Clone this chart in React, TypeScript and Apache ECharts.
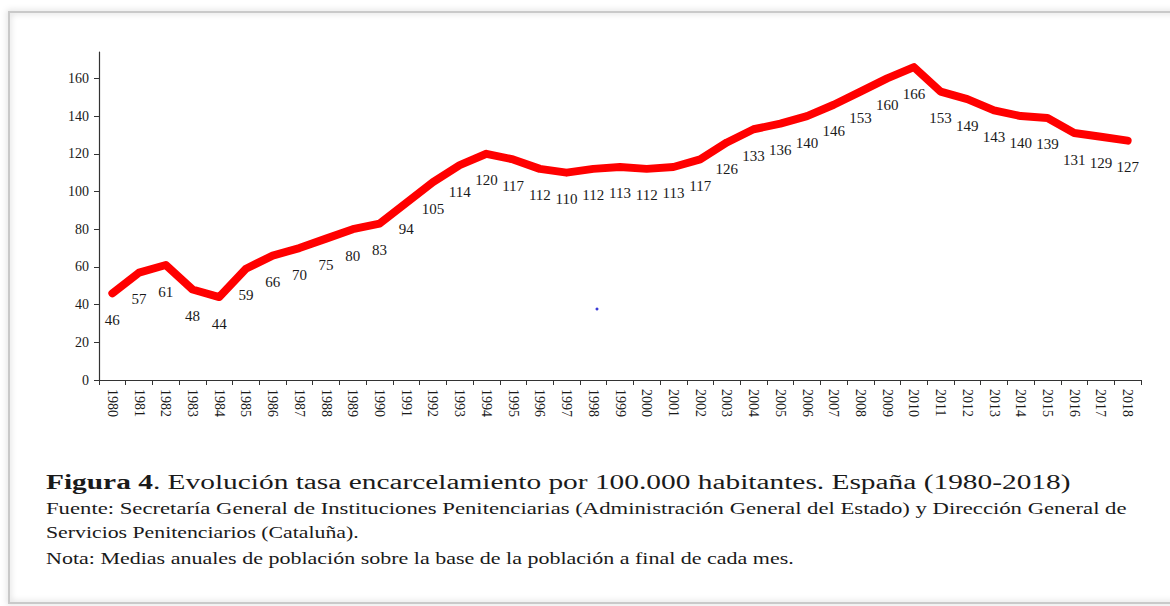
import React, { useEffect, useRef } from "react";
import * as echarts from "echarts";

const YEARS = [
  "1980","1981","1982","1983","1984","1985","1986","1987","1988","1989",
  "1990","1991","1992","1993","1994","1995","1996","1997","1998","1999",
  "2000","2001","2002","2003","2004","2005","2006","2007","2008","2009",
  "2010","2011","2012","2013","2014","2015","2016","2017","2018",
];
const RATES = [
  46, 57, 61, 48, 44, 59, 66, 70, 75, 80,
  83, 94, 105, 114, 120, 117, 112, 110, 112, 113,
  112, 113, 117, 126, 133, 136, 140, 146, 153, 160,
  166, 153, 149, 143, 140, 139, 131, 129, 127,
];
const Y_TICKS = [0, 20, 40, 60, 80, 100, 120, 140, 160];

const CAPTION_BOLD = "Figura 4";
const CAPTION_REST = ". Evolución tasa encarcelamiento por 100.000 habitantes. España (1980-2018)";
const SOURCE_1 = "Fuente: Secretaría General de Instituciones Penitenciarias (Administración General del Estado) y Dirección General de";
const SOURCE_2 = "Servicios Penitenciarios (Cataluña).";
const NOTE = "Nota: Medias anuales de población sobre la base de la población a final de cada mes.";

const FONT = "Liberation Serif, Times New Roman, serif";

export default function App() {
  const ref = useRef<HTMLDivElement>(null);

  useEffect(() => {
    if (!ref.current) return;
    const chart = echarts.init(ref.current, undefined, { renderer: "svg" });

    const ctx = document.createElement("canvas").getContext("2d")!;
    const measure = (t: string, f: string) => {
      ctx.font = f;
      return ctx.measureText(t).width;
    };
    const w1 =
      measure(CAPTION_BOLD, `bold 20px ${FONT}`) +
      measure(CAPTION_REST, `20px ${FONT}`);
    const sc1 = 1025 / w1;
    const sc2 = 1081 / measure(SOURCE_1, `17px ${FONT}`);
    const sc3 = 313 / measure(SOURCE_2, `17px ${FONT}`);
    const sc4 = 748 / measure(NOTE, `17px ${FONT}`);

    const textEl = (y: number, scaleX: number, text: string, size: number, rich?: any) => ({
      type: "text",
      x: 46,
      y,
      scaleX,
      z: 10,
      style: {
        text,
        x: 0,
        y: 0,
        fill: "#1a1a1a",
        fontSize: size,
        fontFamily: FONT,
        verticalAlign: "middle",
        textVerticalAlign: "middle",
        rich,
      },
    });

    chart.setOption({
      animation: false,
      backgroundColor: "#ffffff",
      grid: { left: 99, right: 29, top: 52, bottom: 226 },
      xAxis: {
        type: "category",
        data: YEARS,
        boundaryGap: true,
        axisLine: { show: true, lineStyle: { color: "#333", width: 1.2 } },
        axisTick: { show: true, length: 5, lineStyle: { color: "#333" } },
        axisLabel: {
          rotate: -90,
          interval: 0,
          margin: 9,
          color: "#1a1a1a",
          fontSize: 14,
          fontFamily: FONT,
        },
        splitLine: { show: false },
      },
      yAxis: {
        type: "value",
        min: 0,
        max: 174,
        interval: 20,
        splitLine: { show: false },
        axisLine: { show: true, lineStyle: { color: "#333", width: 1.2 } },
        axisTick: {
          show: true,
          length: 5,
          lineStyle: { color: "#333" },
          customValues: Y_TICKS,
        },
        axisLabel: {
          customValues: Y_TICKS,
          margin: 10,
          color: "#1a1a1a",
          fontSize: 14,
          fontFamily: FONT,
        },
      },
      series: [
        {
          type: "line",
          data: RATES,
          symbol: "circle",
          symbolSize: 2,
          itemStyle: { color: "#ff0000" },
          lineStyle: { color: "#ff0000", width: 8, cap: "round", join: "round" },
          label: {
            show: true,
            position: "bottom",
            distance: 18,
            color: "#1a1a1a",
            fontSize: 15,
            fontFamily: FONT,
          },
        },
      ],
      graphic: [
        {
          type: "rect",
          z: -10,
          shape: { x: 9, y: 12, width: 1220, height: 591 },
          style: {
            fill: "none",
            stroke: "#c9c9c9",
            lineWidth: 2,
            shadowBlur: 6,
            shadowColor: "rgba(0,0,0,0.25)",
          },
        },
        {
          type: "circle",
          shape: { cx: 597, cy: 309, r: 1.5 },
          style: { fill: "#3b3bd6" },
        },
        textEl(482, sc1, `{b|${CAPTION_BOLD}}${CAPTION_REST}`, 20, {
          b: { fontWeight: "bold", fontSize: 20, fontFamily: FONT, fill: "#1a1a1a" },
        }),
        textEl(508, sc2, SOURCE_1, 17),
        textEl(532, sc3, SOURCE_2, 17),
        textEl(558, sc4, NOTE, 17),
      ],
    });

    return () => chart.dispose();
  }, []);

  return (
    <div
      ref={ref}
      style={{ position: "absolute", left: 0, top: 0, width: 1170, height: 606 }}
    />
  );
}
